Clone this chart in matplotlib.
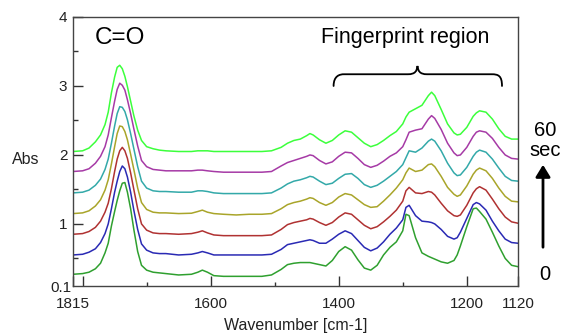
import matplotlib
matplotlib.use("Agg")
import matplotlib.pyplot as plt
from matplotlib.path import Path
from matplotlib.patches import PathPatch, FancyArrowPatch
from matplotlib.transforms import offset_copy

plt.rcParams['font.family'] = ['Liberation Sans', 'DejaVu Sans']

# Wavenumber grid (cm-1), shared by all spectra
wavenumber = [1815, 1800, 1790, 1780, 1772, 1765, 1760, 1755, 1750, 1746, 1742, 1738, 1734,
              1730, 1725, 1720, 1714, 1708, 1700, 1690, 1680,
              1670, 1650, 1630, 1620, 1613, 1605, 1595, 1580, 1560, 1540, 1520, 1505,
              1490, 1480, 1470, 1460, 1450, 1445, 1440, 1430, 1420, 1410,
              1400, 1390, 1380, 1370, 1360, 1350, 1340, 1330, 1320, 1310,
              1300, 1295, 1290, 1280, 1270, 1260, 1255, 1250, 1240, 1230,
              1220, 1215, 1210, 1200, 1190, 1185, 1180, 1170, 1160, 1150,
              1140, 1130, 1120]

# Absorbance spectra (offset for display), from 0 s to 60 s
abs_00s = [0.27, 0.28, 0.30, 0.35, 0.43, 0.58, 0.72, 0.97, 1.18, 1.34, 1.48, 1.59, 1.60,
           1.46, 1.22, 0.92, 0.60, 0.40, 0.33, 0.30, 0.29,
           0.28, 0.26, 0.27, 0.30, 0.33, 0.30, 0.25, 0.24, 0.24, 0.24, 0.24, 0.26,
           0.34, 0.41, 0.43, 0.44, 0.44, 0.44, 0.43, 0.41, 0.39, 0.47,
           0.60, 0.67, 0.62, 0.48, 0.36, 0.33, 0.40, 0.55, 0.66, 0.74,
           0.90, 1.14, 1.12, 0.80, 0.58, 0.53, 0.51, 0.49, 0.45, 0.43,
           0.47, 0.55, 0.68, 0.96, 1.22, 1.23, 1.18, 1.07, 0.88, 0.68,
           0.50, 0.40, 0.38]
abs_10s = [0.55, 0.56, 0.59, 0.64, 0.73, 0.86, 1.00, 1.22, 1.46, 1.62, 1.76, 1.84, 1.80,
           1.68, 1.46, 1.20, 0.92, 0.71, 0.62, 0.58, 0.57,
           0.57, 0.55, 0.56, 0.58, 0.60, 0.58, 0.55, 0.55, 0.55, 0.55, 0.55, 0.56,
           0.63, 0.70, 0.72, 0.74, 0.76, 0.77, 0.76, 0.72, 0.72, 0.78,
           0.85, 0.90, 0.86, 0.76, 0.66, 0.61, 0.65, 0.74, 0.85, 0.94,
           1.06, 1.24, 1.27, 1.12, 1.04, 1.03, 1.02, 1.00, 0.92, 0.82,
           0.78, 0.80, 0.88, 1.08, 1.28, 1.31, 1.29, 1.20, 1.04, 0.90,
           0.78, 0.73, 0.72]
abs_20s = [0.85, 0.86, 0.89, 0.95, 1.04, 1.17, 1.30, 1.51, 1.76, 1.94, 2.06, 2.11, 2.06,
           1.95, 1.74, 1.50, 1.22, 1.00, 0.91, 0.87, 0.86,
           0.86, 0.85, 0.86, 0.88, 0.90, 0.87, 0.84, 0.83, 0.83, 0.83, 0.83, 0.84,
           0.92, 0.99, 1.02, 1.04, 1.06, 1.08, 1.07, 1.02, 0.98, 1.02,
           1.10, 1.16, 1.14, 1.06, 0.98, 0.93, 0.96, 1.03, 1.11, 1.20,
           1.33, 1.48, 1.53, 1.45, 1.44, 1.47, 1.46, 1.42, 1.30, 1.19,
           1.12, 1.11, 1.13, 1.27, 1.45, 1.51, 1.54, 1.49, 1.36, 1.22,
           1.10, 1.03, 1.01]
abs_30s = [1.15, 1.16, 1.19, 1.26, 1.35, 1.49, 1.64, 1.87, 2.12, 2.31, 2.42, 2.41, 2.34,
           2.22, 2.01, 1.79, 1.52, 1.31, 1.21, 1.17, 1.16,
           1.16, 1.15, 1.155, 1.18, 1.20, 1.17, 1.15, 1.14, 1.13, 1.14, 1.14, 1.15,
           1.22, 1.28, 1.31, 1.33, 1.36, 1.38, 1.37, 1.31, 1.27, 1.31,
           1.39, 1.44, 1.42, 1.35, 1.28, 1.24, 1.25, 1.33, 1.42, 1.52,
           1.64, 1.74, 1.81, 1.76, 1.78, 1.86, 1.87, 1.83, 1.69, 1.53,
           1.43, 1.40, 1.42, 1.55, 1.72, 1.78, 1.81, 1.77, 1.66, 1.52,
           1.40, 1.33, 1.32]
abs_40s = [1.45, 1.46, 1.49, 1.56, 1.65, 1.79, 1.94, 2.17, 2.42, 2.60, 2.70, 2.69, 2.63,
           2.51, 2.31, 2.09, 1.83, 1.62, 1.52, 1.48, 1.47,
           1.47, 1.46, 1.46, 1.48, 1.48, 1.47, 1.45, 1.44, 1.44, 1.44, 1.44, 1.45,
           1.52, 1.58, 1.62, 1.64, 1.67, 1.69, 1.68, 1.62, 1.57, 1.59,
           1.66, 1.72, 1.73, 1.66, 1.57, 1.53, 1.56, 1.62, 1.69, 1.76,
           1.86, 1.96, 2.06, 2.04, 2.10, 2.20, 2.23, 2.20, 2.06, 1.88,
           1.74, 1.70, 1.71, 1.82, 1.98, 2.04, 2.07, 2.04, 1.94, 1.81,
           1.69, 1.63, 1.62]
abs_50s = [1.76, 1.77, 1.80, 1.88, 1.98, 2.12, 2.29, 2.54, 2.78, 2.95, 3.04, 3.01, 2.94,
           2.80, 2.60, 2.38, 2.13, 1.92, 1.83, 1.79, 1.78,
           1.77, 1.77, 1.77, 1.78, 1.78, 1.77, 1.76, 1.75, 1.75, 1.75, 1.75, 1.76,
           1.84, 1.89, 1.92, 1.95, 1.98, 2.00, 1.99, 1.92, 1.87, 1.90,
           1.98, 2.04, 2.03, 1.95, 1.86, 1.82, 1.85, 1.91, 1.98, 2.03,
           2.12, 2.22, 2.33, 2.36, 2.38, 2.52, 2.57, 2.53, 2.37, 2.17,
           2.03, 1.99, 2.00, 2.11, 2.27, 2.33, 2.35, 2.33, 2.24, 2.11,
           2.00, 1.95, 1.94]
abs_60s = [2.05, 2.06, 2.10, 2.19, 2.29, 2.44, 2.62, 2.90, 3.13, 3.27, 3.30, 3.25, 3.14,
           2.99, 2.78, 2.57, 2.36, 2.21, 2.12, 2.09, 2.07,
           2.06, 2.05, 2.05, 2.06, 2.06, 2.06, 2.05, 2.05, 2.05, 2.05, 2.05, 2.06,
           2.11, 2.17, 2.21, 2.23, 2.28, 2.31, 2.29, 2.22, 2.17, 2.21,
           2.29, 2.35, 2.33, 2.25, 2.17, 2.12, 2.15, 2.21, 2.28, 2.34,
           2.45, 2.55, 2.62, 2.67, 2.72, 2.86, 2.91, 2.86, 2.66, 2.45,
           2.32, 2.29, 2.30, 2.40, 2.56, 2.61, 2.64, 2.62, 2.52, 2.38,
           2.27, 2.23, 2.23]

spectra = [abs_00s, abs_10s, abs_20s, abs_30s, abs_40s, abs_50s, abs_60s]
colors = ['#2FA02F', '#2A2AB4', '#B03232', '#A9A52A', '#33A9A9', '#A63AA6', '#3CFF3C']

x_major = [1815, 1800, 1600, 1400, 1200, 1120]
x_major_labels = ['1815', '', '1600', '1400', '1200', '1120']
x_minor = [1700, 1500, 1300]
y_major = [1, 2, 3, 4]
y_minor = [0.5, 1.5, 2.5, 3.5]

W, H = 569, 333
fig = plt.figure(figsize=(W / 100, H / 100), dpi=100)
ax = fig.add_axes([73 / W, 1 - 286 / H, 445 / W, 269 / H])

for spec, col in zip(spectra, colors):
    ax.plot(wavenumber, spec, color=col, lw=1.1, solid_joinstyle='round')

ax.set_xlim(1815, 1120)
ax.set_ylim(0.1, 4)

ax.set_xticks(x_major)
ax.set_xticklabels(x_major_labels)
ax.set_xticks(x_minor, minor=True)
ax.set_yticks(y_major)
ax.set_yticks(y_minor, minor=True)

txt_col = '#222222'
ax.tick_params(axis='both', which='both', direction='in', colors='#333333',
               labelcolor=txt_col, labelsize=11, width=1.0)
ax.tick_params(axis='x', which='major', length=7, pad=8)
ax.tick_params(axis='x', which='minor', length=3)
ax.tick_params(axis='y', which='major', length=7, pad=4)
ax.tick_params(axis='y', which='minor', length=3.5)
for sp in ax.spines.values():
    sp.set_color('#444444')
    sp.set_linewidth(1.0)

# Bottom limit label of the absorbance axis, sitting just below the corner
ax.text(-0.003, 0.1, '0.1',
        transform=offset_copy(ax.get_yaxis_transform(), fig=fig, x=0, y=-1.5, units='points'),
        ha='right', va='center', fontsize=11, color=txt_col)

ax.set_xlabel('Wavenumber [cm-1]', fontsize=11.5, color=txt_col, va='center')
ax.xaxis.set_label_coords(0.5, -0.145)
ax.set_ylabel('Abs', fontsize=11.5, color=txt_col, rotation=0, ha='center', va='center')
ax.yaxis.set_label_coords(-0.106, 0.472)

# Band labels
ax.text(1742, 3.70, 'C=O', fontsize=17.5, ha='center', va='center', color='black')
ax.text(1296, 3.70, 'Fingerprint region', fontsize=15.5, ha='center', va='center',
        color='black')

# Curly brace spanning the fingerprint bands
brace_verts = [(1408, 3.00), (1408, 3.15), (1398, 3.17), (1392, 3.17),
               (1292, 3.17),
               (1280, 3.17), (1278, 3.22), (1277, 3.29),
               (1276, 3.22), (1274, 3.17), (1262, 3.17),
               (1161, 3.17),
               (1151, 3.17), (1145, 3.15), (1145, 3.00)]
brace_codes = [Path.MOVETO, Path.CURVE4, Path.CURVE4, Path.CURVE4,
               Path.LINETO,
               Path.CURVE4, Path.CURVE4, Path.CURVE4,
               Path.CURVE4, Path.CURVE4, Path.CURVE4,
               Path.LINETO,
               Path.CURVE4, Path.CURVE4, Path.CURVE4]
ax.add_patch(PathPatch(Path(brace_verts, brace_codes), facecolor='none',
                       edgecolor='black', lw=1.3, capstyle='round'))


# Time direction marker to the right of the plot
def fx(px):
    return px / W


def fy(py):
    return 1 - py / H


fig.text(fx(545), fy(130), '60', fontsize=14.5, ha='center', va='center')
fig.text(fx(545), fy(151), 'sec', fontsize=14.5, ha='center', va='center')
fig.text(fx(545), fy(275), '0', fontsize=14.5, ha='center', va='center')
fig.patches.append(FancyArrowPatch(
    (fx(543), fy(250)), (fx(543), fy(162)), transform=fig.transFigure,
    arrowstyle='-|>,head_length=3.6,head_width=2.2', mutation_scale=2,
    lw=2, color='black'))

fig.savefig('out.png', dpi=100)
